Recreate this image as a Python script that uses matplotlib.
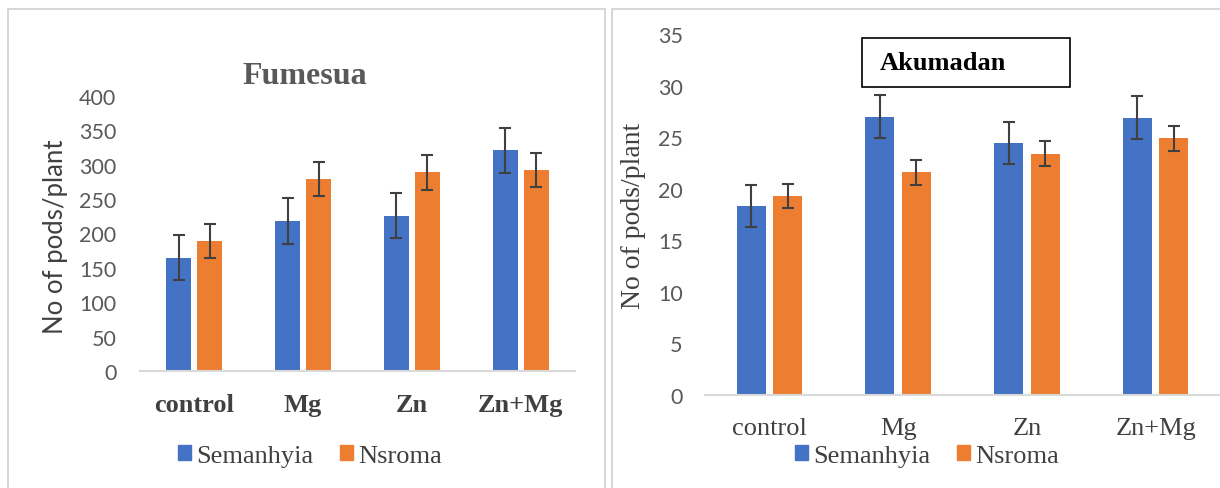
import numpy as np
import matplotlib.pyplot as plt
from matplotlib.patches import Rectangle, Patch

# === Data ===
treatments = ["control", "Mg", "Zn", "Zn+Mg"]
series = ["Semanhyia", "Nsroma"]

fum_sem = [165, 218, 226, 321]
fum_sem_err = [33, 33, 33, 33]
fum_nsr = [189, 279, 289, 292]
fum_nsr_err = [25, 25, 25, 25]

aku_sem = [18.3, 27.0, 24.4, 26.9]
aku_sem_err = [2.05, 2.05, 2.05, 2.05]
aku_nsr = [19.3, 21.6, 23.4, 24.9]
aku_nsr_err = [1.2, 1.2, 1.2, 1.2]

fum_ticks = [0, 50, 100, 150, 200, 250, 300, 350, 400]
aku_ticks = [0, 5, 10, 15, 20, 25, 30, 35]

BLUE = "#4472C4"
ORANGE = "#ED7D31"
ERR = "#404040"
TICK = "#595959"
SERIF = "Liberation Serif"
SANS = "Lato"

fig = plt.figure(figsize=(12.2, 4.89), dpi=100)

# panel frames
fig.patches.append(Rectangle((8 / 1220, -0.1), 597 / 1220, 1.1 - 10 / 489,
                             transform=fig.transFigure, fill=False, edgecolor="#D0D0D0", lw=1.2))
fig.patches.append(Rectangle((612 / 1220, -0.1), 0.6, 1.1 - 10 / 489,
                             transform=fig.transFigure, fill=False, edgecolor="#D0D0D0", lw=1.2))


def draw_panel(ax, sem, sem_err, nsr, nsr_err, w, gap):
    x = np.arange(len(treatments))
    off = (w + gap) / 2
    ek = dict(ecolor=ERR, elinewidth=1.5, capsize=4.5, capthick=1.5)
    ax.bar(x - off, sem, w, color=BLUE, yerr=sem_err, error_kw=ek, label=series[0])
    ax.bar(x + off, nsr, w, color=ORANGE, yerr=nsr_err, error_kw=ek, label=series[1])
    ax.set_xlim(-0.5, len(treatments) - 0.5)
    for s in ["top", "right", "left"]:
        ax.spines[s].set_visible(False)
    ax.spines["bottom"].set_color("#D9D9D9")
    ax.spines["bottom"].set_linewidth(1.5)
    ax.tick_params(length=0)
    ax.set_xticks(x)
    return x


def add_legend(xc):
    fig.legend(handles=[Patch(color=BLUE, label=series[0]), Patch(color=ORANGE, label=series[1])],
               loc="center", bbox_to_anchor=(xc / 1220, 1 - 457 / 489), ncol=2, frameon=False,
               prop={"family": SERIF, "size": 19}, labelcolor="#404040", handlelength=0.5,
               handleheight=0.5, handletextpad=0.2, columnspacing=1.0)


# === Fumesua ===
ax1 = fig.add_axes([140 / 1220, 117 / 489, 435 / 1220, 275 / 489])
draw_panel(ax1, fum_sem, fum_sem_err, fum_nsr, fum_nsr_err, 0.23, 0.055)
ax1.set_ylim(0, 400)
ax1.set_yticks(fum_ticks)
ax1.set_yticklabels([str(t) for t in fum_ticks], fontsize=15.5, color=TICK, family=SANS)
ax1.tick_params(axis="y", pad=17)
ax1.set_xticklabels(treatments, fontsize=19, fontweight="bold", color="#404040", family=SERIF)
ax1.tick_params(axis="x", pad=16)
ax1.set_ylabel("No of pods/plant", fontsize=18.5, color="#404040", family=SANS)
ax1.yaxis.set_label_coords(-0.166, 0.49)
fig.text(305 / 1220, 1 - 77 / 489, "Fumesua", fontsize=23, fontweight="bold", color="#595959",
         family=SERIF, ha="center", va="center")
add_legend(310)

# === Akumadan ===
ax2 = fig.add_axes([705 / 1220, 93 / 489, 515 / 1220, 361 / 489])
draw_panel(ax2, aku_sem, aku_sem_err, aku_nsr, aku_nsr_err, 0.225, 0.06)
ax2.set_ylim(0, 35)
ax2.set_yticks(aku_ticks)
ax2.set_yticklabels([str(t) for t in aku_ticks], fontsize=15.5, color=TICK, family=SANS)
ax2.tick_params(axis="y", pad=16)
ax2.set_xticklabels(treatments, fontsize=19, color="#404040", family=SERIF)
ax2.tick_params(axis="x", pad=16)
ax2.set_ylabel("No of pods/plant", fontsize=20, color="#404040", family=SERIF)
ax2.yaxis.set_label_coords(-0.115, 0.5)
fig.patches.append(Rectangle((862 / 1220, 1 - 88 / 489), 208 / 1220, 49 / 489,
                             transform=fig.transFigure, fill=False, edgecolor="black", lw=1.2))
fig.text(880 / 1220, 1 - 64 / 489, "Akumadan", fontsize=19, fontweight="bold", color="black",
         family=SERIF, ha="left", va="center")
add_legend(927)

fig.savefig("out.png", dpi=100)
